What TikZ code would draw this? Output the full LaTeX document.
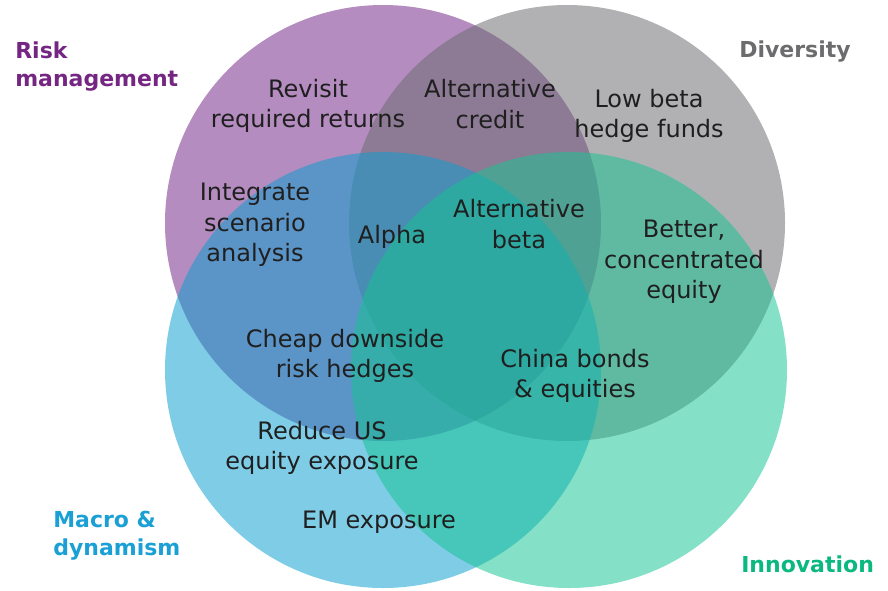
\documentclass[tikz,border=0pt]{standalone}
\usepackage{fontspec}
\setmainfont{DejaVu Sans}
\definecolor{riskc}{RGB}{113,38,134}
\definecolor{divc}{RGB}{108,108,111}
\definecolor{macroc}{RGB}{13,158,208}
\definecolor{innovc}{RGB}{23,196,147}
\definecolor{riskt}{RGB}{117,38,130}
\definecolor{divt}{RGB}{108,108,110}
\definecolor{macrot}{RGB}{26,160,212}
\definecolor{innovt}{RGB}{10,184,128}
\tikzset{%
  set/.style = { fill opacity=0.53 },
  item/.style = { align=center, inner sep=0pt, text=black!88, font=\fontsize{18}{23}\selectfont },
  title/.style = { align=left, inner sep=0pt, font=\fontsize{16.5}{21}\selectfont\bfseries }
}
\begin{document}
\begin{tikzpicture}[x=0.75pt,y=-0.75pt]

  \useasboundingbox (0,0) rectangle (888,590);

  % Circles
  \foreach \cx/\cy/\col in {383/223/riskc, 567/223/divc, 383/370/macroc, 569/370/innovc} {
    \fill[set,\col] (\cx,\cy) circle (218);
  }

  % Set names
  \node[title,text=riskt,anchor=west] (risk) at (15,67) {Risk\\management};
  \node[title,text=divt,anchor=base east] (diversity) at (851,57) {Diversity};
  \node[title,text=macrot,anchor=west] (macro) at (53,536) {Macro \&\\dynamism};
  \node[title,text=innovt,anchor=base west] (innovation) at (741,572) {Innovation};

  % Items
  \node[item] (revisit) at (308,106) {Revisit\\required returns};
  \node[item] (altcredit) at (490,104) {Alternative\\credit};
  \node[item] (lowbeta) at (649,116) {Low beta\\hedge funds};
  \node[item] (scenario) at (255,225) {Integrate\\scenario\\analysis};
  \node[item] (alpha) at (392,237) {Alpha};
  \node[item] (altbeta) at (519,224) {Alternative\\beta};
  \node[item] (equity) at (684,262) {Better,\\concentrated\\equity};
  \node[item] (hedges) at (345,356) {Cheap downside\\risk hedges};
  \node[item] (china) at (575,376) {China bonds\\\& equities};
  \node[item] (reduce) at (322,448) {Reduce US\\equity exposure};
  \node[item] (em) at (379,522) {EM exposure};

\end{tikzpicture}
\end{document}
